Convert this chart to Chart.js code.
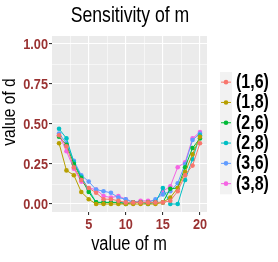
<!DOCTYPE html>
<html><head><meta charset="utf-8">
<script src="https://cdn.jsdelivr.net/npm/chart.js@4.4.1/dist/chart.umd.min.js"></script>
<style>html,body{margin:0;padding:0;background:#fff}#w{width:278px;height:262px}</style>
</head><body><div id="w"><canvas id="c" width="278" height="262"></canvas></div>
<script>
const mValues = [1,2,3,4,5,6,7,8,9,10,11,12,13,14,15,16,17,18,19,20];
const seriesLabels = ["(1,6)","(1,8)","(2,6)","(2,8)","(3,6)","(3,8)"];
const seriesColors = ["#F8766D","#B79F00","#00BA38","#00BFC4","#619CFF","#F564E3"];
const s16 = [0.43,0.36,0.23,0.15,0.10,0.07,0.03,0.03,0.02,0.01,0.01,0.01,0.01,0.01,0.01,0.02,0.08,0.18,0.24,0.38];
const s18 = [0.38,0.21,0.18,0.075,0.03,0.00,0.00,0.00,0.00,0.00,0.00,0.00,0.00,0.00,0.01,0.04,0.10,0.20,0.31,0.42];
const s26 = [0.42,0.37,0.25,0.16,0.075,0.01,0.01,0.01,0.01,0.00,0.01,0.01,0.01,0.01,0.01,0.095,0.10,0.23,0.35,0.41];
const s28 = [0.47,0.41,0.26,0.17,0.09,0.01,0.01,0.01,0.01,0.01,0.01,0.01,0.00,0.01,0.10,0.00,0.00,0.15,0.28,0.43];
const s36 = [0.44,0.38,0.27,0.18,0.14,0.09,0.08,0.07,0.04,0.03,0.01,0.01,0.01,0.03,0.06,0.08,0.13,0.25,0.40,0.44];
const s38 = [0.43,0.33,0.22,0.14,0.10,0.09,0.05,0.04,0.05,0.03,0.01,0.02,0.02,0.02,0.08,0.11,0.23,0.26,0.41,0.45];
const allSeries = [s16,s18,s26,s28,s36,s38];
const yMajor = [0,0.25,0.5,0.75,1];
const yMinor = [0.125,0.375,0.625,0.875];
const xMajor = [5,10,15,20];
const xMinor = [2.5,7.5,12.5,17.5];

const TICKCOL = "#9A3232";
const FONT = "'Liberation Sans', Arial, sans-serif";
const SX = 0.82;

const datasets = allSeries.map((s,i)=>({
  label: seriesLabels[i],
  data: s.map((v,j)=>({x:mValues[j], y:v})),
  borderColor: seriesColors[i],
  backgroundColor: seriesColors[i],
  borderWidth: 1,
  pointRadius: 2.3,
  pointBorderWidth: 0,
  pointHoverRadius: 2.3,
  tension: 0
}));

function isMajor(v, majors){ return majors.some(m=>Math.abs(m-v)<1e-9); }

function cText(ctx, text, x, y, font, align, color){
  ctx.save();
  ctx.font = font;
  ctx.fillStyle = color;
  ctx.textAlign = align;
  ctx.textBaseline = 'middle';
  ctx.translate(x, y);
  ctx.scale(SX, 1);
  ctx.fillText(text, 0, 0);
  ctx.restore();
}

const bgPlugin = {
  id:'bg',
  beforeDraw(chart){
    const {ctx, chartArea:a} = chart;
    ctx.save();
    ctx.fillStyle = '#EBEBEB';
    ctx.fillRect(a.left, a.top, a.right-a.left, a.bottom-a.top);
    ctx.restore();
  },
  afterDraw(chart){
    const ctx = chart.ctx;
    const xs = chart.scales.x, ys = chart.scales.y;
    // tick labels (condensed), positioned with the chart's scales
    yMajor.forEach(v => cText(ctx, v.toFixed(2), 48, ys.getPixelForValue(v)+0.5, "bold 15.5px " + FONT, 'right', TICKCOL));
    xMajor.forEach(v => cText(ctx, String(v), xs.getPixelForValue(v), 224.5, "bold 15.5px " + FONT, 'center', TICKCOL));
    cText(ctx, "Sensitivity of m", 130, 16, "21.5px " + FONT, 'center', '#000');
    cText(ctx, "value of m", 129, 244, "20px " + FONT, 'center', '#000');
    ctx.save();
    ctx.translate(10, 112);
    ctx.rotate(-Math.PI/2);
    cText(ctx, "value of d", 0, 0, "19px " + FONT, 'center', '#000');
    ctx.restore();
    // legend
    const keyX = 220, keyW = 12, top = 72, rowH = 20.3;
    ctx.save();
    ctx.fillStyle = '#F2F2F2';
    ctx.fillRect(keyX, top, keyW, rowH*seriesLabels.length+0.5);
    seriesLabels.forEach((lab,i)=>{
      const cy = top + rowH*(i+0.5);
      ctx.strokeStyle = seriesColors[i];
      ctx.lineWidth = 1;
      ctx.beginPath(); ctx.moveTo(keyX+1, cy); ctx.lineTo(keyX+keyW-1, cy); ctx.stroke();
      ctx.fillStyle = seriesColors[i];
      ctx.beginPath(); ctx.arc(keyX+keyW/2, cy, 2.3, 0, Math.PI*2); ctx.fill();
      cText(ctx, lab, 236, cy+0.5, "bold 19.5px " + FONT, 'left', '#000');
    });
    ctx.restore();
  }
};

new Chart(document.getElementById('c'), {
  type: 'line',
  data: { datasets },
  options: {
    responsive: false,
    animation: false,
    devicePixelRatio: 1,
    layout: { padding: { top: 36, right: 71, left: 0, bottom: 0 } },
    plugins: { legend: { display: false }, title: { display: false }, tooltip: { enabled: false } },
    scales: {
      x: {
        type: 'linear', min: 0.05, max: 20.95,
        afterBuildTicks(s){ s.ticks = [...xMinor, ...xMajor].sort((a,b)=>a-b).map(v=>({value:v})); },
        afterFit(s){ s.height = 50; },
        border: { display: false },
        grid: {
          color: '#FFFFFF',
          lineWidth: c => isMajor(c.tick.value, xMajor) ? 1.1 : 0.55,
          drawTicks: true, tickLength: 3,
          tickColor: c => isMajor(c.tick.value, xMajor) ? '#333333' : 'rgba(0,0,0,0)'
        },
        ticks: {
          autoSkip: false, maxRotation: 0, padding: 1,
          color: 'rgba(0,0,0,0)', font: { family: FONT, size: 14, weight: 'bold' },
          callback: v => isMajor(v, xMajor) ? String(v) : ''
        }
      },
      y: {
        type: 'linear', min: -0.05, max: 1.05,
        afterBuildTicks(s){ s.ticks = [...yMinor, ...yMajor].sort((a,b)=>a-b).map(v=>({value:v})); },
        afterFit(s){ s.width = 52; },
        border: { display: false },
        grid: {
          color: '#FFFFFF',
          lineWidth: c => isMajor(c.tick.value, yMajor) ? 1.1 : 0.55,
          drawTicks: true, tickLength: 3,
          tickColor: c => isMajor(c.tick.value, yMajor) ? '#333333' : 'rgba(0,0,0,0)'
        },
        ticks: {
          autoSkip: false, padding: 1,
          color: 'rgba(0,0,0,0)', font: { family: FONT, size: 14, weight: 'bold' },
          callback: v => isMajor(v, yMajor) ? v.toFixed(2) : ''
        }
      }
    }
  },
  plugins: [bgPlugin]
});
</script></body></html>
